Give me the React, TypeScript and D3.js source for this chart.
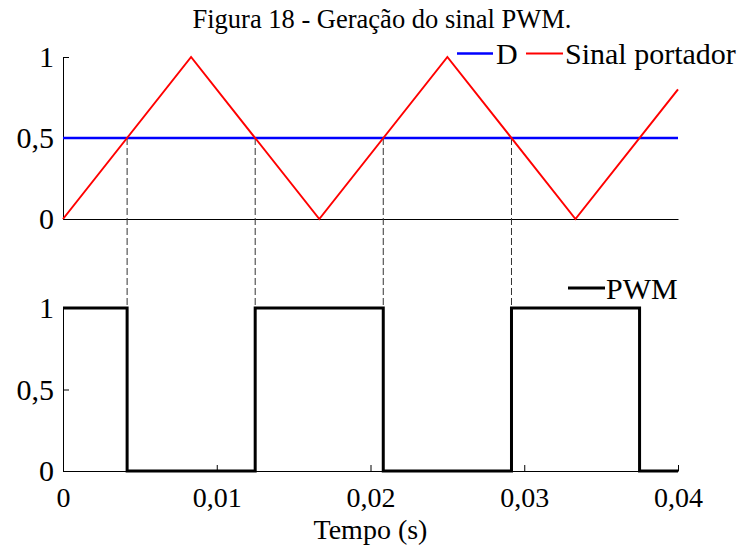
import React, { useEffect, useRef } from 'react';
import * as d3 from 'd3';

// carrier (triangle) vertices
const carrierT = [0, 0.00833, 0.01667, 0.025, 0.03333, 0.04];
const carrierV = [0, 1, 0, 1, 0, 0.8];

// duty reference D
const dutyT = [0, 0.04];
const dutyV = [0.5, 0.5];

// PWM edges (step after)
const pwmT = [0, 0.00417, 0.0125, 0.02083, 0.02917, 0.0375, 0.04];
const pwmV = [1, 0, 1, 0, 1, 0, 0];

// where the dashed guides drop from the top plot
const crossT = [0.00417, 0.0125, 0.02083, 0.02917];

const yTicks = [0, 0.5, 1];
const xTicks = [0, 0.01, 0.02, 0.03, 0.04];

const title = 'Figura 18 - Geração do sinal PWM.';
const xLabel = 'Tempo (s)';
const legendTop = ['D', 'Sinal portador'];
const legendBottom = ['PWM'];

const W = 753;
const H = 545;
const FONT = '"Liberation Serif", "Times New Roman", serif';

const fmt = (d: number) => String(d).replace('.', ',');

export default function App() {
    const topAxisY = useRef<SVGGElement>(null);
    const topAxisX = useRef<SVGGElement>(null);
    const botAxisY = useRef<SVGGElement>(null);
    const botAxisX = useRef<SVGGElement>(null);

    const x = d3.scaleLinear().domain([0, 0.04]).range([63, 678]);
    const yTop = d3.scaleLinear().domain([0, 1]).range([219, 57]);
    const yBot = d3.scaleLinear().domain([0, 1]).range([471, 308]);

    const carrierPath = d3.line<number>()
        .x((d) => x(d))
        .y((_, i) => yTop(carrierV[i]))(carrierT);
    const dutyPath = d3.line<number>()
        .x((d) => x(d))
        .y((_, i) => yTop(dutyV[i]))(dutyT);
    const pwmPath = d3.line<number>()
        .x((d) => x(d))
        .y((_, i) => yBot(pwmV[i]))
        .curve(d3.curveStepAfter)(pwmT);

    useEffect(() => {
        const styleAxis = (sel: d3.Selection<SVGGElement, unknown, null, undefined>, size: number) => {
            sel.attr('font-family', FONT).attr('font-size', size);
            sel.selectAll('text').attr('fill', '#000');
            sel.selectAll('line').attr('stroke', '#000');
            sel.select('.domain').attr('stroke', '#000');
        };

        d3.select(topAxisY.current!)
            .call(d3.axisLeft(yTop).tickValues(yTicks).tickFormat((d) => fmt(+d))
                .tickSizeInner(-6).tickSizeOuter(0).tickPadding(9))
            .call(styleAxis, 30);
        d3.select(topAxisY.current!).selectAll('text').attr('dy', '0.32em');

        d3.select(topAxisX.current!)
            .call(d3.axisBottom(x).tickValues([]).tickSizeOuter(0))
            .call(styleAxis, 30);

        d3.select(botAxisY.current!)
            .call(d3.axisLeft(yBot).tickValues(yTicks).tickFormat((d) => fmt(+d))
                .tickSizeInner(-6).tickSizeOuter(0).tickPadding(9))
            .call(styleAxis, 30);
        d3.select(botAxisY.current!).selectAll('text').attr('dy', '0.32em');

        d3.select(botAxisX.current!)
            .call(d3.axisBottom(x).tickValues(xTicks).tickFormat((d) => fmt(+d))
                .tickSizeInner(-6).tickSizeOuter(0).tickPadding(16))
            .call(styleAxis, 28);
    }, []);

    return (
        <svg width={W} height={H} style={{ position: 'absolute', left: 0, top: 0, background: '#fff' }}
            fontFamily={FONT}>
            <rect width={W} height={H} fill="#fff" />

            <text x={382} y={28} textAnchor="middle" fontSize={26.5}>{title}</text>

            {/* Axes */}
            <g ref={topAxisY} transform={`translate(${x(0)},0)`} />
            <g ref={topAxisX} transform={`translate(0,${yTop(0)})`} />
            <g ref={botAxisY} transform={`translate(${x(0)},0)`} />
            <g ref={botAxisX} transform={`translate(0,${yBot(0)})`} />

            {/* dashed guides */}
            {crossT.map((t, i) => (
                <line key={i} x1={x(t)} x2={x(t)} y1={yTop(0.5)} y2={yBot(1)}
                    stroke="#333" strokeWidth={1} strokeDasharray="7,3" />
            ))}

            <path d={dutyPath!} fill="none" stroke="#0000ff" strokeWidth={2.5} />
            <path d={carrierPath!} fill="none" stroke="#ff0000" strokeWidth={2} />
            <path d={pwmPath!} fill="none" stroke="#000" strokeWidth={3} />

            {/* legends */}
            <line x1={457} x2={493} y1={53.5} y2={53.5} stroke="#0000ff" strokeWidth={2.5} />
            <text x={496} y={64} fontSize={30}>{legendTop[0]}</text>
            <line x1={526} x2={563} y1={53.5} y2={53.5} stroke="#ff0000" strokeWidth={2} />
            <text x={565} y={64} fontSize={30}>{legendTop[1]}</text>

            <line x1={568} x2={605} y1={288} y2={288} stroke="#000" strokeWidth={3} />
            <text x={606} y={299} fontSize={30}>{legendBottom[0]}</text>

            <text x={x(0.02)} y={539} textAnchor="middle" fontSize={28}>{xLabel}</text>
        </svg>
    );
}
